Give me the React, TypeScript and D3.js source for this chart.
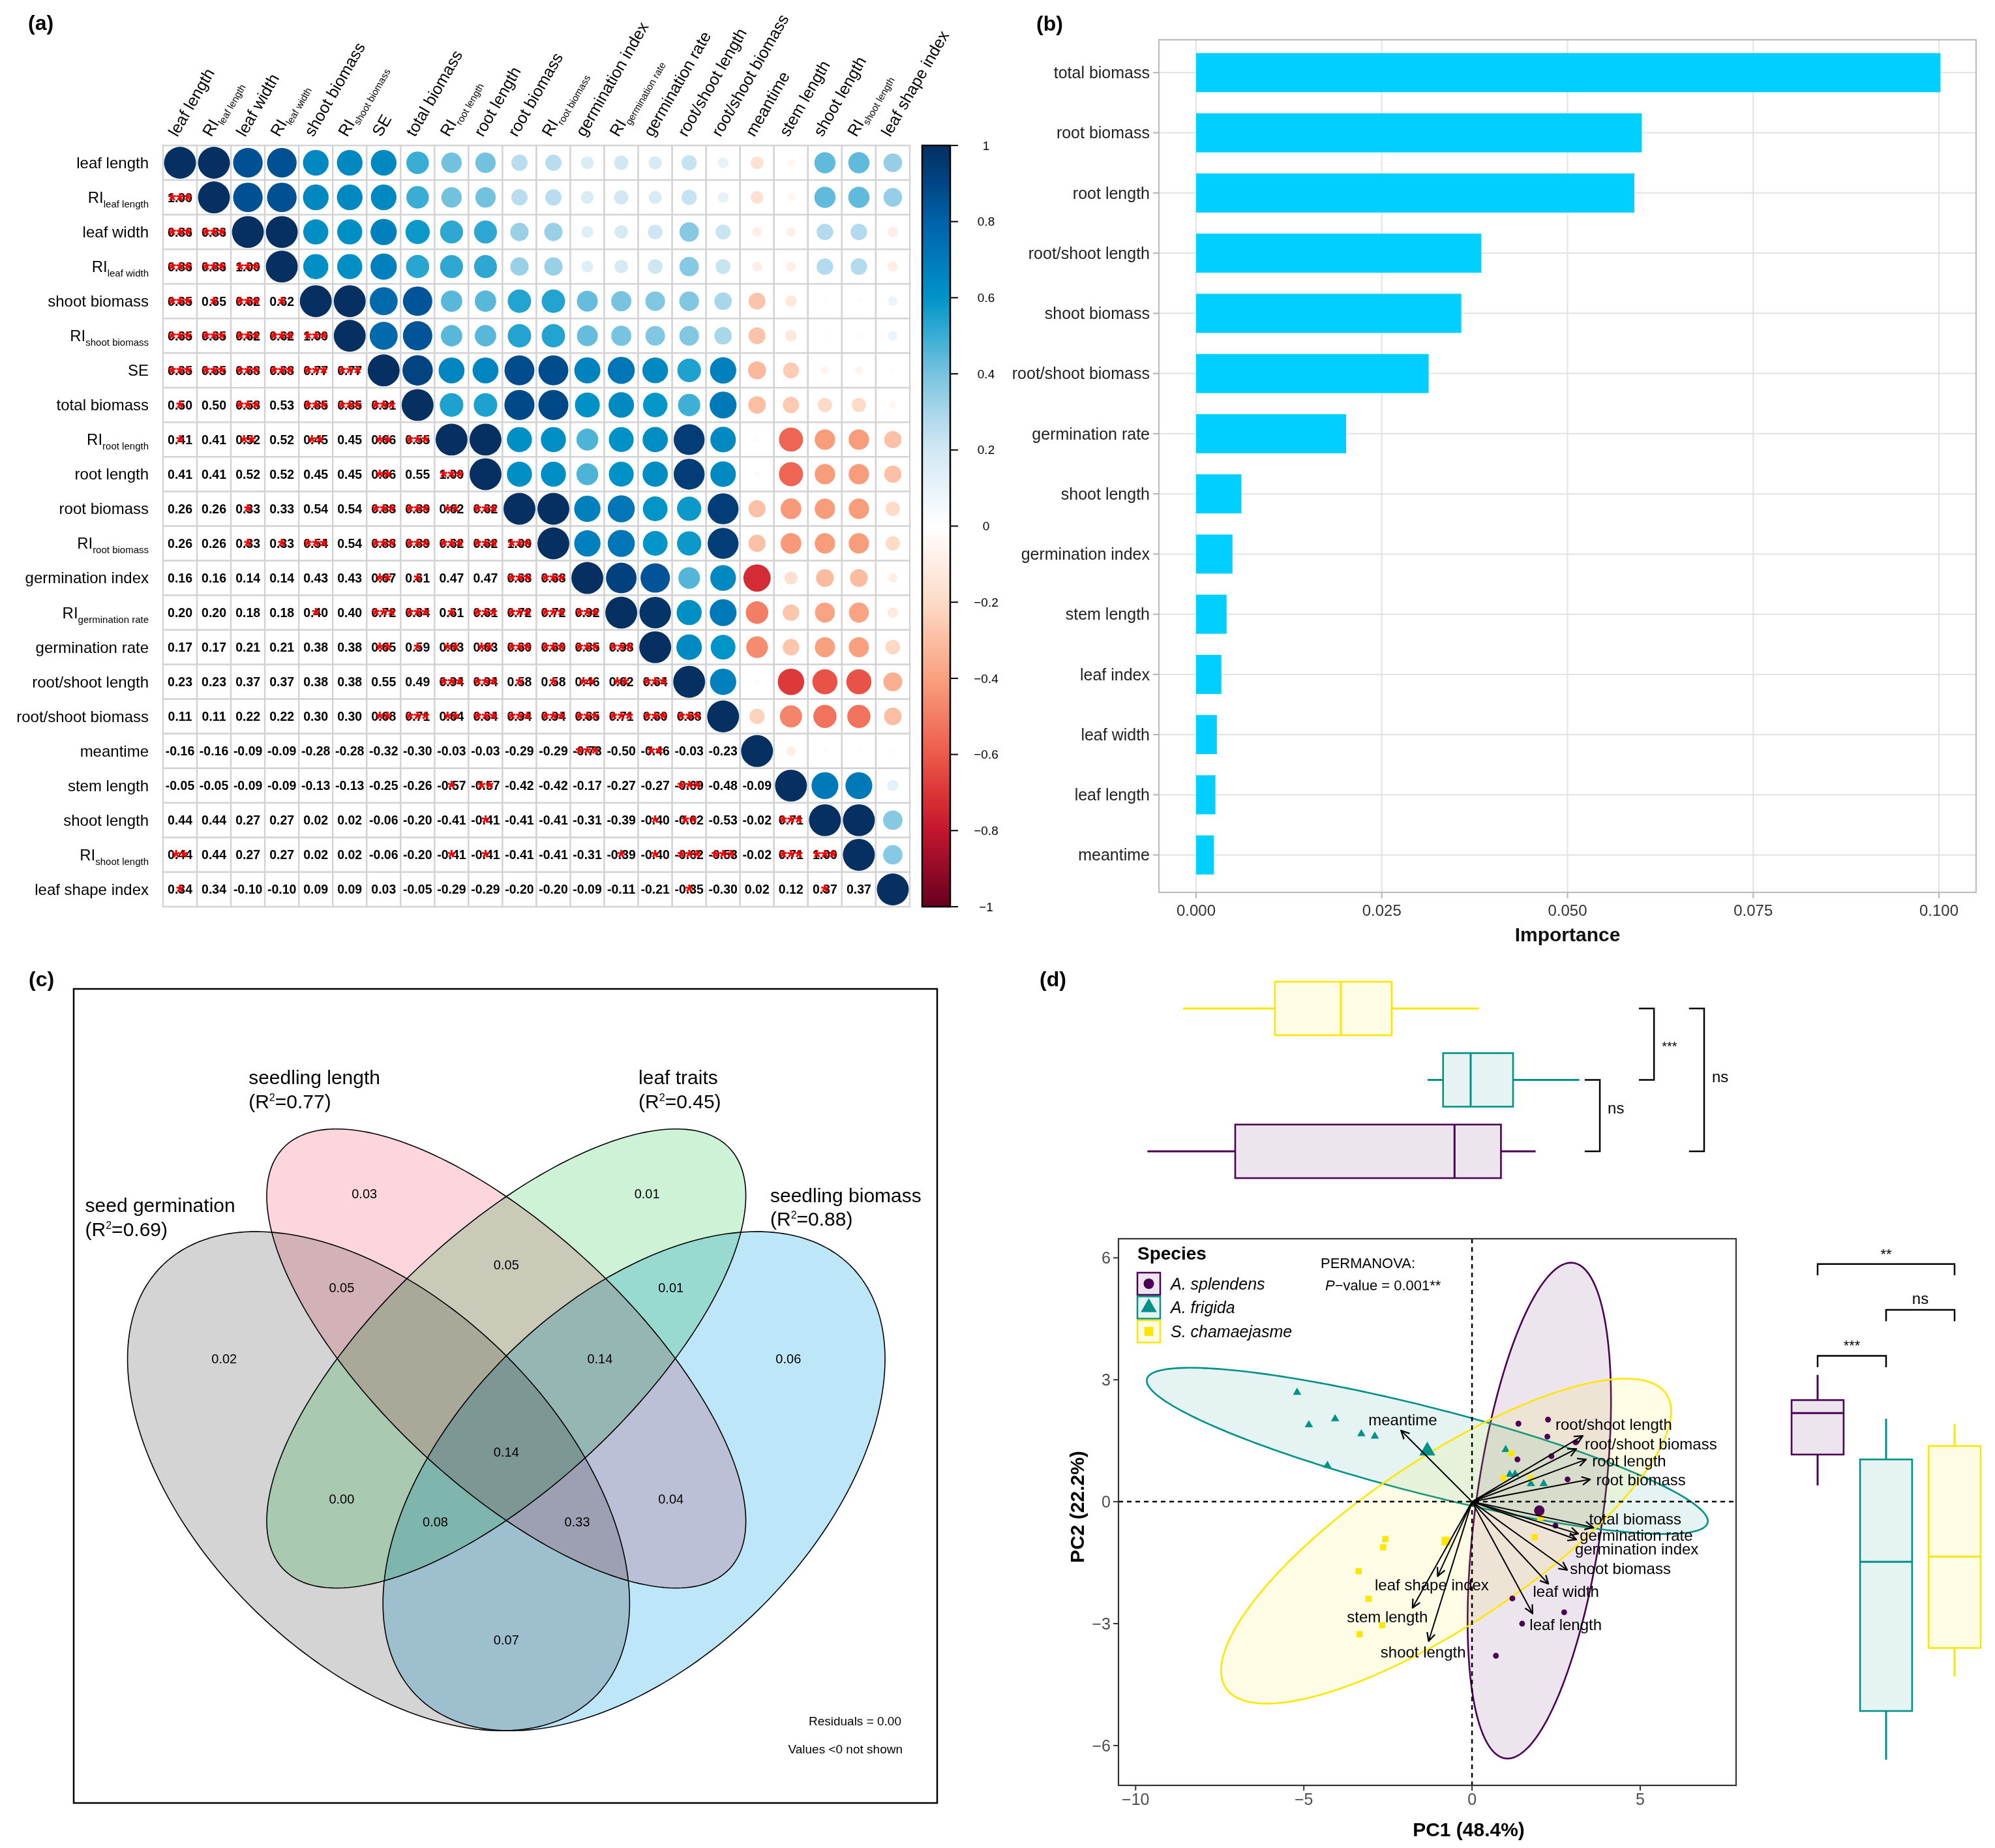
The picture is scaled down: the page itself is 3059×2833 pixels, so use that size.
import React from 'react';
import * as d3 from 'd3';

const W = 3059, H = 2833;
const FONT = "'Liberation Sans', Arial, Helvetica, sans-serif";

// ================= (a) correlation matrix data =================
const corrLabels = ['leaf length','RI|leaf length','leaf width','RI|leaf width','shoot biomass','RI|shoot biomass','SE','total biomass','RI|root length','root length','root biomass','RI|root biomass','germination index','RI|germination rate','germination rate','root/shoot length','root/shoot biomass','meantime','stem length','shoot length','RI|shoot length','leaf shape index'];

const corrLower: number[][] = [
  [],
  [1.00],
  [0.86,0.86],
  [0.86,0.86,1.00],
  [0.65,0.65,0.62,0.62],
  [0.65,0.65,0.62,0.62,1.00],
  [0.65,0.65,0.68,0.68,0.77,0.77],
  [0.50,0.50,0.58,0.53,0.85,0.85,0.91],
  [0.41,0.41,0.52,0.52,0.45,0.45,0.66,0.55],
  [0.41,0.41,0.52,0.52,0.45,0.45,0.66,0.55,1.00],
  [0.26,0.26,0.33,0.33,0.54,0.54,0.88,0.89,0.62,0.62],
  [0.26,0.26,0.33,0.33,0.54,0.54,0.88,0.89,0.62,0.62,1.00],
  [0.16,0.16,0.14,0.14,0.43,0.43,0.67,0.61,0.47,0.47,0.68,0.68],
  [0.20,0.20,0.18,0.18,0.40,0.40,0.72,0.64,0.61,0.61,0.72,0.72,0.92],
  [0.17,0.17,0.21,0.21,0.38,0.38,0.65,0.59,0.63,0.63,0.60,0.60,0.85,0.98],
  [0.23,0.23,0.37,0.37,0.38,0.38,0.55,0.49,0.94,0.94,0.58,0.58,0.46,0.62,0.64],
  [0.11,0.11,0.22,0.22,0.30,0.30,0.68,0.71,0.64,0.64,0.94,0.94,0.65,0.71,0.60,0.68],
  [-0.16,-0.16,-0.09,-0.09,-0.28,-0.28,-0.32,-0.30,-0.03,-0.03,-0.29,-0.29,-0.73,-0.50,-0.46,-0.03,-0.23],
  [-0.05,-0.05,-0.09,-0.09,-0.13,-0.13,-0.25,-0.26,-0.57,-0.57,-0.42,-0.42,-0.17,-0.27,-0.27,-0.69,-0.48,-0.09],
  [0.44,0.44,0.27,0.27,0.02,0.02,-0.06,-0.20,-0.41,-0.41,-0.41,-0.41,-0.31,-0.39,-0.40,-0.62,-0.53,-0.02,0.71],
  [0.44,0.44,0.27,0.27,0.02,0.02,-0.06,-0.20,-0.41,-0.41,-0.41,-0.41,-0.31,-0.39,-0.40,-0.62,-0.53,-0.02,0.71,1.00],
  [0.34,0.34,-0.10,-0.10,0.09,0.09,0.03,-0.05,-0.29,-0.29,-0.20,-0.20,-0.09,-0.11,-0.21,-0.35,-0.30,0.02,0.12,0.37,0.37],
];
// number of significance stars per lower-triangle cell
const corrStars = ['','3','33','333','3131','33333','333333','1030333','10202023','000000203','0010003323','00113033333','000000210033','0000103313333','00000021223333','000000003311223','0000002323333333','00000000000030200','000000001200000300','0000000001000012003','20000000110001133033','100000000000000100010'];

const corrStopVals = [-1,-0.8,-0.7,-0.6,-0.4,-0.2,0,0.2,0.3,0.4,0.5,0.6,0.7,0.8,0.9,1];
const corrStopCols = ['#67001F','#C3162E','#DB3536','#EC5A4B','#F9A07E','#FDDBC7','#FFFFFF','#D1E8F3','#A8D6EA','#78C3DF','#3AADD4','#0094C8','#007BBA','#0062A8','#004685','#053061'];
const cbarTicks = [1,0.8,0.6,0.4,0.2,0,-0.2,-0.4,-0.6,-0.8,-1];

// ================= (b) importance =================
const impCats = ['total biomass','root biomass','root length','root/shoot length','shoot biomass','root/shoot biomass','germination rate','shoot length','germination index','stem length','leaf index','leaf width','leaf length','meantime'];
const impVals = [0.1002,0.0600,0.0590,0.0384,0.0357,0.0313,0.0202,0.0061,0.0049,0.0041,0.0034,0.0028,0.0026,0.0024];
const impTicks = [0, 0.025, 0.05, 0.075, 0.1];

// ================= (c) variation partitioning =================
const vennSets = ['seed germination','seedling length','leaf traits','seedling biomass'];
const vennR2 = ['0.69','0.77','0.45','0.88'];
const vennValues = ['0.02','0.03','0.01','0.06','0.05','0.05','0.01','0.14','0.14','0.00','0.04','0.08','0.33','0.07'];
// layout (venn units) – ellipse geometry, region label anchors, set label anchors
const vennEllipses = [
  { cx: -2.25, cy: 2.2, a: 5.43, b: 3.18, deg: 45.7, fill: '#d4d4d4' },
  { cx: 0, cy: 0, a: 5.45, b: 2.25, deg: 44, fill: '#fdd5dc' },
  { cx: 0, cy: 0, a: 5.45, b: 2.25, deg: -44, fill: '#cdf2d5' },
  { cx: 2.25, cy: 2.2, a: 5.43, b: 3.18, deg: -45.7, fill: '#bde6f8' },
];
const vennRegionPos = [[-4.97,0],[-2.5,-2.95],[2.48,-2.95],[4.97,0],[-2.9,-1.27],[0,-1.68],[2.9,-1.27],[1.65,0],[0,1.68],[-2.9,2.52],[2.9,2.52],[-1.25,2.93],[1.25,2.93],[0,5.05]];
const vennSetPos = [[-7.42,-2.75],[-4.54,-5.04],[2.33,-5.04],[4.65,-2.93]];

// ================= (d) PCA =================
const species = ['A. splendens','A. frigida','S. chamaejasme'];
const speciesColors = ['#4B0055','#009188','#FFE600'];
const splendensPC1 = [1.38,2.26,2.24,3.08,2.36,1.35,2.84,2.48,1.20,2.74,1.49,0.71];
const splendensPC2 = [1.92,2.02,1.60,1.46,1.12,1.04,0.55,-0.59,-2.38,-2.72,-3.00,-3.79];
const frigidaPC1 = [-5.20,-4.85,-4.07,-3.29,-2.89,-4.30,1.00,1.12,1.28,1.75,2.13];
const frigidaPC2 = [2.69,1.89,2.04,1.67,1.61,0.89,1.28,0.67,0.68,0.44,0.44];
const chamaePC1 = [1.17,0.94,1.75,2.03,1.86,-2.58,-2.64,-3.37,-3.08,-2.67,-3.34];
const chamaePC2 = [1.19,0.58,0.58,-0.39,-0.87,-0.92,-1.12,-1.71,-2.39,-3.04,-3.26];
const centroidPC1 = [2.0,-1.33,-0.77];
const centroidPC2 = [-0.22,1.25,-0.97];
const ellA = [6.18, 8.52, 7.49];
const ellB = [1.887, 1.07, 2.154];
const ellDeg = [80.3, -11.9, 28];

const loadNames = ['meantime','root/shoot length','root/shoot biomass','root length','root biomass','total biomass','germination rate','germination index','shoot biomass','leaf width','leaf length','leaf shape index','stem length','shoot length'];
const loadPC1 = [-2.11,3.29,3.10,3.39,3.51,3.60,3.16,3.10,2.83,2.27,1.80,-1.02,-1.77,-1.29];
const loadPC2 = [1.75,1.62,1.30,1.04,0.55,-0.63,-0.79,-0.93,-1.68,-2.02,-2.75,-1.83,-2.61,-3.43];
const loadLabPC1 = [-3.08,2.48,3.35,3.57,3.69,3.48,3.20,3.06,2.91,1.81,1.71,-2.89,-3.72,-2.72];
const loadLabPC2 = [2.02,1.90,1.42,1.01,0.54,-0.42,-0.83,-1.16,-1.64,-2.20,-3.02,-2.05,-2.83,-3.70];
const pcaXTicks = [-10,-5,0,5];
const pcaYTicks = [-6,-3,0,3,6];

// boxplot stats [min, q1, median, q3, max]
const pc1Box = [[-9.65,-7.04,-0.52,0.86,1.89],[-1.32,-0.86,-0.04,1.22,3.19],[-8.59,-5.86,-3.90,-2.39,0.21]];
const pc2Box = [[0.40,1.16,2.18,2.50,3.12],[-6.35,-5.15,-1.48,1.04,2.04],[-4.30,-3.60,-1.35,1.37,1.91]];
// significance brackets: [group a, group b, position, label]
const pc1Sig: [number, number, number, string][] = [[2,1,5.41,'***'],[1,0,3.80,'ns'],[2,0,6.90,'ns']];
const pc2Sig: [number, number, number, string][] = [[0,2,5.85,'**'],[1,2,4.72,'ns'],[0,1,3.59,'***']];

function ellipsePts(cx: number, cy: number, a: number, b: number, deg: number, n = 240): [number, number][] {
  const th = deg * Math.PI / 180, c = Math.cos(th), s = Math.sin(th);
  return d3.range(n).map(i => {
    const t = 2 * Math.PI * i / n;
    const u = a * Math.cos(t), v = b * Math.sin(t);
    return [cx + u * c - v * s, cy + u * s + v * c] as [number, number];
  });
}

function SubLabel({ label, subSize, subDy }: { label: string; subSize: number; subDy: number }) {
  const [main, sub] = label.split('|');
  return (<>{main}{sub ? <tspan fontSize={subSize} dy={subDy}>{sub}</tspan> : null}</>);
}

export default function App() {
  // ---------- (a) ----------
  const n = corrLabels.length;
  const bx = d3.scaleBand<number>().domain(d3.range(n)).range([250, 1395]);
  const by = d3.scaleBand<number>().domain(d3.range(n)).range([223, 1390]);
  const cw = bx.bandwidth(), ch = by.bandwidth();
  const corrColor = d3.scaleLinear<string>().domain(corrStopVals).range(corrStopCols).interpolate(d3.interpolateRgb);
  const rVal = (i: number, j: number) => (i === j ? 1 : i > j ? corrLower[i][j] : corrLower[j][i]);
  const cbY = d3.scaleLinear().domain([-1, 1]).range([1390, 223]);
  const cbX0 = 1414, cbX1 = 1457;

  const cells: JSX.Element[] = [];
  for (let i = 0; i < n; i++) {
    for (let j = 0; j < n; j++) {
      const x = bx(j)!, y = by(i)!;
      cells.push(<rect key={`c${i}-${j}`} x={x} y={y} width={cw} height={ch} fill="#fff" stroke="#d3d3d3" strokeWidth={2.4} />);
    }
  }
  const marks: JSX.Element[] = [];
  const stars: JSX.Element[] = [];
  for (let i = 0; i < n; i++) {
    for (let j = 0; j < n; j++) {
      const x = bx(j)! + cw / 2, y = by(i)! + ch / 2;
      const r = rVal(i, j);
      if (j >= i) {
        const rad = Math.sqrt(Math.abs(r)) * 0.47 * Math.min(cw, ch);
        marks.push(<circle key={`m${i}-${j}`} cx={x} cy={y} r={rad} fill={corrColor(r)} />);
      } else {
        const ns = +corrStars[i][j];
        marks.push(<text key={`t${i}-${j}`} x={x} y={y + 7} textAnchor="middle" fontSize={19.5} fontWeight="bold" fill="#000">{r.toFixed(2)}</text>);
        if (ns > 0) stars.push(<text key={`s${i}-${j}`} x={x} y={y + 15} textAnchor="middle" fontSize={31} fontWeight="bold" fill="#ff0000">{'*'.repeat(ns)}</text>);
      }
    }
  }

  // ---------- (b) ----------
  const xImp = d3.scaleLinear().domain([0, 0.1]).range([1834, 2973]);
  const yImp = d3.scaleBand<string>().domain(impCats).range([56, 1366]).paddingInner(0.35).paddingOuter(0.275);
  const bPanel = { x0: 1777, x1: 3030, y0: 61, y1: 1368 };

  // ---------- (c) ----------
  const vx = d3.scaleLinear().domain([0, 1]).range([776.3, 863.33]);
  const vy = d3.scaleLinear().domain([0, 1]).range([2082.6, 2168.07]);
  const vLine = d3.line<[number, number]>().x(p => vx(p[0])).y(p => vy(p[1])).curve(d3.curveLinearClosed);

  // ---------- (d) ----------
  const xP = d3.scaleLinear().domain([-10.51, 7.85]).range([1715, 2662]);
  const yP = d3.scaleLinear().domain([-6.98, 6.47]).range([2737, 1899]);
  const pLine = d3.line<[number, number]>().x(p => xP(p[0])).y(p => yP(p[1])).curve(d3.curveLinearClosed);
  const topBand = d3.scaleBand<number>().domain([2, 1, 0]).range([1491.25, 1819.75]).paddingInner(0.25).paddingOuter(0.125);
  const rightBand = d3.scaleBand<number>().domain([0, 1, 2]).range([2734.5, 3049.5]).paddingInner(0.24).paddingOuter(0.12);
  const ptsPC1 = [splendensPC1, frigidaPC1, chamaePC1];
  const ptsPC2 = [splendensPC2, frigidaPC2, chamaePC2];
  const sym = (k: number, size: number) => {
    const t = k === 0 ? d3.symbolCircle : k === 1 ? d3.symbolTriangle : d3.symbolSquare;
    return d3.symbol().type(t).size(size)()!;
  };
  const smallSize = [62, 70, 90];
  const bigSize = [200, 260, 190];

  return (
    <svg width={W} height={H} viewBox={`0 0 ${W} ${H}`} style={{ position: 'absolute', left: 0, top: 0, background: '#fff' }} fontFamily={FONT}>
      <defs>
        <linearGradient id="cbar" x1="0" y1="1" x2="0" y2="0">
          {corrStopVals.map((v, k) => <stop key={k} offset={(v + 1) / 2} stopColor={corrStopCols[k]} />)}
        </linearGradient>
        <marker id="arrOpen" viewBox="0 0 12 12" refX="11" refY="6" markerWidth="15" markerHeight="15" markerUnits="userSpaceOnUse" orient="auto">
          <path d="M1,1 L11,6 L1,11" fill="none" stroke="#000" strokeWidth={1.8} />
        </marker>
        <clipPath id="pcaClip"><rect x={1715} y={1899} width={947} height={838} /></clipPath>
      </defs>
      <rect x={0} y={0} width={W} height={H} fill="#fff" />

      {/* ================= (a) ================= */}
      <text x={43} y={46} fontSize={32} fontWeight="bold">(a)</text>
      <g>{cells}</g>
      <g>{marks}</g>
      <g>{stars}</g>
      {corrLabels.map((l, i) => (
        <text key={`rl${i}`} x={228} y={by(i)! + ch / 2} dy="0.35em" textAnchor="end" fontSize={24} fill="#000">
          <SubLabel label={l} subSize={15} subDy={7} />
        </text>
      ))}
      {corrLabels.map((l, j) => {
        const x = bx(j)! + cw / 2 - 4, y = 211;
        return (
          <text key={`cl${j}`} x={x} y={y} textAnchor="start" fontSize={25} fill="#000" transform={`rotate(-60 ${x} ${y})`}>
            <SubLabel label={l} subSize={15} subDy={7} />
          </text>
        );
      })}
      <rect x={cbX0} y={223} width={cbX1 - cbX0} height={1390 - 223} fill="url(#cbar)" stroke="#000" strokeWidth={2.5} />
      {cbarTicks.map(t => (
        <g key={`cb${t}`}>
          <line x1={cbX1} x2={cbX1 + 12} y1={cbY(t)} y2={cbY(t)} stroke="#000" strokeWidth={2} />
          <text x={1512} y={cbY(t)} dy="0.35em" textAnchor="middle" fontSize={19}>{t < 0 ? `\u2212${Math.abs(t)}` : `${t}`}</text>
        </g>
      ))}

      {/* ================= (b) ================= */}
      <text x={1589} y={47} fontSize={32} fontWeight="bold">(b)</text>
      {impTicks.map(t => <line key={`gx${t}`} x1={xImp(t)} x2={xImp(t)} y1={bPanel.y0} y2={bPanel.y1} stroke="#e2e2e2" strokeWidth={2} />)}
      {impCats.map(c => <line key={`gy${c}`} x1={bPanel.x0} x2={bPanel.x1} y1={yImp(c)! + yImp.bandwidth() / 2} y2={yImp(c)! + yImp.bandwidth() / 2} stroke="#e2e2e2" strokeWidth={2} />)}
      {impCats.map((c, k) => <rect key={`bar${c}`} x={xImp(0)} y={yImp(c)!} width={xImp(impVals[k]) - xImp(0)} height={yImp.bandwidth()} fill="#00CFFF" />)}
      <rect x={bPanel.x0} y={bPanel.y0} width={bPanel.x1 - bPanel.x0} height={bPanel.y1 - bPanel.y0} fill="none" stroke="#bdbdbd" strokeWidth={2.2} />
      {impCats.map(c => {
        const y = yImp(c)! + yImp.bandwidth() / 2;
        return (
          <g key={`yl${c}`}>
            <line x1={bPanel.x0 - 9} x2={bPanel.x0} y1={y} y2={y} stroke="#b3b3b3" strokeWidth={2} />
            <text x={bPanel.x0 - 14} y={y} dy="0.35em" textAnchor="end" fontSize={25} fill="#222">{c}</text>
          </g>
        );
      })}
      {impTicks.map(t => (
        <g key={`xl${t}`}>
          <line x1={xImp(t)} x2={xImp(t)} y1={bPanel.y1} y2={bPanel.y1 + 9} stroke="#b3b3b3" strokeWidth={2} />
          <text x={xImp(t)} y={1404} textAnchor="middle" fontSize={24} fill="#333">{t.toFixed(3)}</text>
        </g>
      ))}
      <text x={(bPanel.x0 + bPanel.x1) / 2} y={1443} textAnchor="middle" fontSize={30} fontWeight="bold" fill="#111">Importance</text>

      {/* ================= (c) ================= */}
      <text x={44} y={1512} fontSize={32} fontWeight="bold">(c)</text>
      <rect x={113} y={1516} width={1437 - 113} height={2764 - 1516} fill="none" stroke="#000" strokeWidth={2.5} />
      <g style={{ isolation: 'isolate' }}>
        {vennEllipses.map((e, k) => (
          <path key={`ve${k}`} d={vLine(ellipsePts(e.cx, e.cy, e.a, e.b, e.deg))!} fill={e.fill} style={{ mixBlendMode: 'multiply' }} />
        ))}
      </g>
      {vennEllipses.map((e, k) => (
        <path key={`vo${k}`} d={vLine(ellipsePts(e.cx, e.cy, e.a, e.b, e.deg))!} fill="none" stroke="#000" strokeWidth={1.6} />
      ))}
      {vennValues.map((v, k) => (
        <text key={`vv${k}`} x={vx(vennRegionPos[k][0])} y={vy(vennRegionPos[k][1])} dy="0.35em" textAnchor="middle" fontSize={20}>{v}</text>
      ))}
      {vennSets.map((s, k) => (
        <g key={`vs${k}`}>
          <text x={vx(vennSetPos[k][0])} y={vy(vennSetPos[k][1])} dy="0.35em" fontSize={30}>{s}</text>
          <text x={vx(vennSetPos[k][0])} y={vy(vennSetPos[k][1] + 0.43)} dy="0.35em" fontSize={30}>
            (R<tspan fontSize={16} dy={-11}>2</tspan><tspan dy={11}>={vennR2[k]})</tspan>
          </text>
        </g>
      ))}
      <text x={1382} y={2645} textAnchor="end" fontSize={19}>Residuals = 0.00</text>
      <text x={1384} y={2688} textAnchor="end" fontSize={19}>Values &lt;0 not shown</text>

      {/* ================= (d) ================= */}
      <text x={1594} y={1512} fontSize={32} fontWeight="bold">(d)</text>
      {/* top boxplots (PC1) */}
      {pc1Box.map((b, k) => {
        const y0 = topBand(k)!, h = topBand.bandwidth(), yc = y0 + h / 2, col = speciesColors[k];
        return (
          <g key={`tb${k}`}>
            <line x1={xP(b[0])} x2={xP(b[1])} y1={yc} y2={yc} stroke={col} strokeWidth={3} />
            <line x1={xP(b[3])} x2={xP(b[4])} y1={yc} y2={yc} stroke={col} strokeWidth={3} />
            <rect x={xP(b[1])} y={y0} width={xP(b[3]) - xP(b[1])} height={h} fill={col} fillOpacity={0.1} stroke={col} strokeWidth={2.6} />
            <line x1={xP(b[2])} x2={xP(b[2])} y1={y0} y2={y0 + h} stroke={col} strokeWidth={3} />
          </g>
        );
      })}
      {pc1Sig.map(([a, b, pos, lab], k) => {
        const ya = topBand(a)! + topBand.bandwidth() / 2, yb = topBand(b)! + topBand.bandwidth() / 2;
        const x = xP(pos), xt = xP(pos - 0.45);
        const ym = (ya + yb) / 2;
        const isNs = lab === 'ns';
        return (
          <g key={`ts${k}`}>
            <path d={`M${xt},${ya} L${x},${ya} L${x},${yb} L${xt},${yb}`} fill="none" stroke="#000" strokeWidth={2.5} />
            <text x={x + 12} y={isNs ? (k === 1 ? ym - 12 : ym - 5) : ym + 10} dy={isNs ? '0.35em' : 0} fontSize={isNs ? 24 : 20}>{lab}</text>
          </g>
        );
      })}
      {/* right boxplots (PC2) */}
      {pc2Box.map((b, k) => {
        const x0 = rightBand(k)!, w = rightBand.bandwidth(), xc = x0 + w / 2, col = speciesColors[k];
        return (
          <g key={`rb${k}`}>
            <line x1={xc} x2={xc} y1={yP(b[4])} y2={yP(b[3])} stroke={col} strokeWidth={3} />
            <line x1={xc} x2={xc} y1={yP(b[1])} y2={yP(b[0])} stroke={col} strokeWidth={3} />
            <rect x={x0} y={yP(b[3])} width={w} height={yP(b[1]) - yP(b[3])} fill={col} fillOpacity={0.1} stroke={col} strokeWidth={2.6} />
            <line x1={x0} x2={x0 + w} y1={yP(b[2])} y2={yP(b[2])} stroke={col} strokeWidth={3} />
          </g>
        );
      })}
      {pc2Sig.map(([a, b, pos, lab], k) => {
        const xa = rightBand(a)! + rightBand.bandwidth() / 2, xb = rightBand(b)! + rightBand.bandwidth() / 2;
        const y = yP(pos), yt = yP(pos - 0.28);
        return (
          <g key={`rs${k}`}>
            <path d={`M${xa},${yt} L${xa},${y} L${xb},${y} L${xb},${yt}`} fill="none" stroke="#000" strokeWidth={2.5} />
            <text x={(xa + xb) / 2} y={lab === 'ns' ? y - 9 : y - 8} textAnchor="middle" fontSize={lab === 'ns' ? 24 : 22}>{lab}</text>
          </g>
        );
      })}

      {/* PCA panel */}
      <g clipPath="url(#pcaClip)">
        {species.map((s, k) => (
          <path key={`pe${k}`} d={pLine(ellipsePts(centroidPC1[k], centroidPC2[k], ellA[k], ellB[k], ellDeg[k]))!} fill={speciesColors[k]} fillOpacity={0.1} stroke={speciesColors[k]} strokeWidth={2.6} />
        ))}
        <line x1={xP(0)} x2={xP(0)} y1={1899} y2={2737} stroke="#000" strokeWidth={2.5} strokeDasharray="7,6" />
        <line x1={1715} x2={2662} y1={yP(0)} y2={yP(0)} stroke="#000" strokeWidth={2.5} strokeDasharray="7,6" />
        {species.map((s, k) => ptsPC1[k].map((v, i) => (
          <path key={`pp${k}-${i}`} transform={`translate(${xP(v)},${yP(ptsPC2[k][i])})`} d={sym(k, smallSize[k])} fill={speciesColors[k]} />
        )))}
        {species.map((s, k) => (
          <path key={`pc${k}`} transform={`translate(${xP(centroidPC1[k])},${yP(centroidPC2[k])})`} d={sym(k, bigSize[k])} fill={speciesColors[k]} />
        ))}
        {loadNames.map((nm, k) => (
          <line key={`ar${k}`} x1={xP(0)} y1={yP(0)} x2={xP(loadPC1[k])} y2={yP(loadPC2[k])} stroke="#000" strokeWidth={2} markerEnd="url(#arrOpen)" />
        ))}
        {loadNames.map((nm, k) => (
          <text key={`al${k}`} x={xP(loadLabPC1[k])} y={yP(loadLabPC2[k])} dy="0.35em" fontSize={24} fill="#000">{nm}</text>
        ))}
      </g>
      <rect x={1715} y={1899} width={947} height={838} fill="none" stroke="#333" strokeWidth={2.2} />
      {pcaXTicks.map(t => (
        <g key={`px${t}`}>
          <line x1={xP(t)} x2={xP(t)} y1={2737} y2={2745} stroke="#333" strokeWidth={2} />
          <text x={xP(t)} y={2767} textAnchor="middle" fontSize={25} fill="#4d4d4d">{t < 0 ? `\u2212${-t}` : `${t}`}</text>
        </g>
      ))}
      {pcaYTicks.map(t => (
        <g key={`py${t}`}>
          <line x1={1707} x2={1715} y1={yP(t)} y2={yP(t)} stroke="#333" strokeWidth={2} />
          <text x={1703} y={yP(t)} dy="0.35em" textAnchor="end" fontSize={25} fill="#4d4d4d">{t < 0 ? `\u2212${-t}` : `${t}`}</text>
        </g>
      ))}
      <text x={2252} y={2815} textAnchor="middle" fontSize={30} fontWeight="bold">PC1 (48.4%)</text>
      <text x={1662} y={2310} textAnchor="middle" fontSize={30} fontWeight="bold" transform="rotate(-90 1662 2310)">PC2 (22.2%)</text>

      {/* legend */}
      <text x={1744} y={1931} fontSize={28} fontWeight="bold">Species</text>
      {species.map((s, k) => {
        const y = 1951 + k * 36.5;
        return (
          <g key={`lg${k}`}>
            <rect x={1744} y={y} width={35} height={34} fill={speciesColors[k]} fillOpacity={0.1} stroke={speciesColors[k]} strokeWidth={2.5} />
            <path transform={`translate(${1761.5},${y + 17})`} d={sym(k, bigSize[k])} fill={speciesColors[k]} />
            <text x={1795} y={y + 17} dy="0.35em" fontSize={25} fontStyle="italic">{s}</text>
          </g>
        );
      })}
      <text x={2025} y={1944} fontSize={22}>PERMANOVA:</text>
      <text x={2032} y={1978} fontSize={22}><tspan fontStyle="italic">P</tspan>{'\u2212value = 0.001**'}</text>
    </svg>
  );
}
